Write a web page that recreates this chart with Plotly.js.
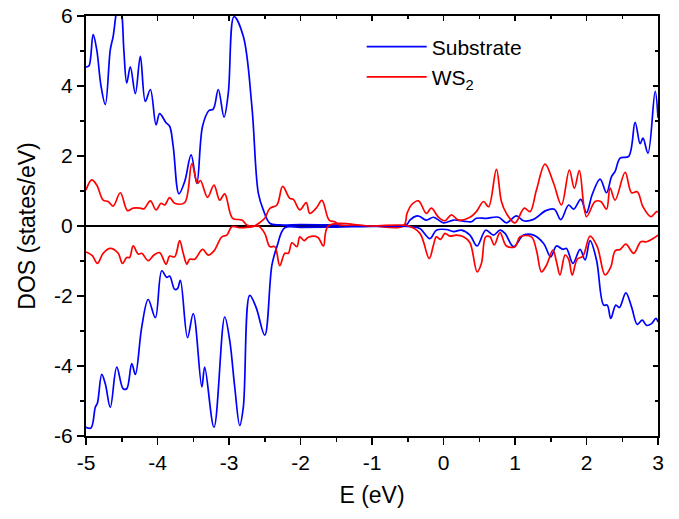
<!DOCTYPE html>
<html>
<head>
<meta charset="utf-8">
<script src="https://cdn.plot.ly/plotly-3.0.1.min.js"></script>
<style>html,body{margin:0;padding:0;background:#fff;}#chart{width:679px;height:519px;}</style>
</head>
<body>
<div id="chart"></div>
<script>
// Substrate, spin up (positive DOS)
const subUpE = [-5.0,-4.96,-4.90,-4.85,-4.79,-4.73,-4.66,-4.62,-4.58,-4.54,-4.50,-4.47,-4.43,-4.38,-4.31,-4.24,-4.17,-4.10,-4.02,-3.97,-3.88,-3.83,-3.78,-3.70,-3.62,-3.53,-3.45,-3.37,-3.28,-3.22,-3.15,-3.07,-3.01,-2.93,-2.80,-2.68,-2.59,-2.52,-2.43,-2.29,-2.0,-1.6,-1.2,-0.6,-0.51,-0.47,-0.37,-0.33,-0.24,-0.14,0.0,0.14,0.28,0.39,0.46,0.60,0.77,0.88,1.02,1.12,1.26,1.43,1.55,1.64,1.75,1.82,1.92,2.00,2.08,2.19,2.28,2.35,2.40,2.47,2.59,2.68,2.75,2.79,2.86,2.96,3.0];
const subUpV = [4.55,4.57,5.47,5.04,4.0,3.47,5.04,5.42,6.05,6.5,6.1,5.0,4.09,4.55,3.78,4.85,3.56,3.90,2.89,3.21,2.95,2.85,2.27,0.92,1.27,2.03,1.22,2.85,3.30,3.34,3.90,3.11,3.80,5.98,5.42,3.42,0.94,0.46,0.08,0.03,0.04,0.03,0.01,0.01,0.05,0.17,0.29,0.27,0.17,0.25,0.09,0.17,0.14,0.12,0.22,0.22,0.25,0.09,0.29,0.15,0.19,0.44,0.48,0.18,0.60,0.48,0.76,0.38,0.90,1.34,0.95,1.41,1.56,1.94,1.99,2.96,2.35,2.51,2.08,3.85,3.09];

// Substrate, spin down (negative DOS)
const subDnE = [-5.0,-4.93,-4.87,-4.84,-4.78,-4.73,-4.66,-4.57,-4.48,-4.43,-4.36,-4.31,-4.22,-4.13,-4.03,-3.94,-3.87,-3.83,-3.76,-3.72,-3.68,-3.58,-3.50,-3.38,-3.34,-3.21,-3.06,-2.99,-2.92,-2.85,-2.80,-2.71,-2.62,-2.50,-2.40,-2.33,-2.22,-2.0,-1.5,-1.0,-0.5,-0.42,-0.33,-0.19,-0.10,0.04,0.14,0.25,0.37,0.47,0.59,0.70,0.79,0.86,0.98,1.12,1.26,1.40,1.50,1.58,1.67,1.72,1.81,1.91,1.98,2.05,2.14,2.24,2.29,2.34,2.41,2.46,2.55,2.63,2.71,2.78,2.84,2.91,2.97,3.0];
const subDnV = [-5.75,-5.77,-5.18,-5.06,-4.24,-4.51,-5.18,-4.03,-4.65,-4.65,-3.93,-4.24,-2.88,-2.10,-2.62,-1.28,-1.47,-1.43,-1.81,-1.79,-1.55,-3.19,-2.50,-4.60,-4.03,-5.75,-2.60,-3.27,-4.60,-5.70,-5.18,-1.98,-2.33,-3.12,-1.12,-0.59,-0.05,-0.04,-0.03,-0.01,-0.01,-0.03,-0.07,-0.36,-0.12,-0.10,-0.16,-0.12,-0.26,-0.57,-0.12,-0.26,-0.12,-0.21,-0.59,-0.26,-0.26,-0.50,-0.88,-0.57,-0.67,-0.64,-1.07,-0.67,-0.97,-0.42,-0.97,-2.26,-2.26,-2.64,-2.26,-2.33,-1.91,-2.31,-2.81,-2.69,-2.84,-2.79,-2.64,-2.74];

// WS2, spin up (positive DOS)
const wsUpE = [-5.0,-4.92,-4.85,-4.76,-4.69,-4.62,-4.52,-4.42,-4.34,-4.24,-4.19,-4.10,-4.02,-3.95,-3.90,-3.83,-3.76,-3.62,-3.52,-3.44,-3.40,-3.30,-3.21,-3.13,-3.06,-2.95,-2.82,-2.75,-2.65,-2.57,-2.50,-2.43,-2.33,-2.25,-2.15,-2.10,-2.01,-1.92,-1.87,-1.78,-1.70,-1.60,-1.52,-1.45,-1.0,-0.56,-0.51,-0.45,-0.35,-0.24,-0.17,-0.07,0.02,0.11,0.21,0.37,0.46,0.56,0.63,0.74,0.81,0.88,1.0,1.13,1.21,1.30,1.42,1.54,1.65,1.76,1.83,1.90,2.00,2.12,2.20,2.28,2.33,2.40,2.54,2.63,2.71,2.79,2.90,2.98,3.0];
const wsUpV = [1.03,1.32,1.17,0.74,0.70,0.57,0.95,0.44,0.51,0.51,0.49,0.72,0.46,0.65,0.60,0.81,0.65,0.67,1.78,1.22,1.30,0.82,1.17,0.74,0.92,0.22,0.17,0.03,0.0,0.10,0.22,0.50,0.60,1.13,0.79,0.76,0.46,0.67,0.36,0.51,0.73,0.17,0.12,0.03,0.0,0.0,0.36,0.60,0.72,0.36,0.51,0.25,0.15,0.32,0.17,0.25,0.41,0.70,0.55,1.62,0.70,0.36,0.09,0.51,0.41,1.03,1.77,1.22,0.60,1.60,1.08,1.58,0.27,0.70,0.70,0.48,1.08,0.74,1.53,0.95,0.98,0.55,0.27,0.41,0.40];

// WS2, spin down (negative DOS)
const wsDnE = [-5.0,-4.92,-4.90,-4.84,-4.76,-4.66,-4.55,-4.49,-4.43,-4.39,-4.34,-4.27,-4.22,-4.13,-4.05,-3.97,-3.88,-3.83,-3.76,-3.69,-3.64,-3.59,-3.55,-3.48,-3.37,-3.29,-3.21,-3.10,-3.03,-2.96,-2.85,-2.70,-2.59,-2.50,-2.43,-2.36,-2.29,-2.22,-2.17,-2.12,-2.05,-2.01,-1.95,-1.89,-1.76,-1.68,-1.61,-1.0,-0.49,-0.33,-0.20,-0.14,-0.10,-0.04,0.02,0.09,0.18,0.28,0.37,0.47,0.53,0.59,0.65,0.71,0.79,0.88,1.0,1.07,1.23,1.30,1.37,1.44,1.53,1.58,1.63,1.70,1.75,1.80,1.87,1.95,2.05,2.15,2.26,2.34,2.40,2.47,2.55,2.66,2.76,2.84,2.93,3.0];
const wsDnV = [-0.74,-0.83,-0.88,-1.07,-0.78,-0.64,-0.78,-1.07,-0.90,-0.90,-0.57,-0.80,-0.78,-0.99,-0.83,-0.76,-1.09,-0.86,-0.88,-0.42,-0.78,-1.09,-0.95,-0.95,-0.67,-0.83,-0.71,-0.31,-0.26,-0.02,-0.05,-0.03,0.0,-0.21,-0.59,-0.59,-1.13,-0.78,-0.78,-0.48,-0.59,-0.31,-0.42,-0.32,-0.32,-0.57,0.0,0.0,0.0,-0.21,-0.93,-0.54,-0.31,-0.38,-0.21,-0.29,-0.26,-0.31,-0.48,-1.31,-1.07,-0.31,-0.31,-0.54,-0.19,-0.57,-0.59,-0.31,-0.31,-0.69,-1.31,-1.12,-0.69,-1.02,-1.40,-0.83,-0.95,-1.40,-0.95,-0.86,-0.29,-0.59,-1.40,-1.17,-0.71,-0.67,-0.52,-0.78,-0.45,-0.45,-0.36,-0.26];

const xTickVals = [-5,-4,-3,-2,-1,0,1,2,3];
const xTickText = ['-5','-4','-3','-2','-1','0','1','2','3'];
const yTickVals = [-6,-4,-2,0,2,4,6];
const yTickText = ['-6','-4','-2','0','2','4','6'];

const FONT = 'Liberation Sans, Arial, sans-serif';
const BLUE = '#0000ff', RED = '#ff0000';
const line = (c) => ({color: c, width: 1.7, shape: 'spline', smoothing: 1.0});

const traces = [
  {x: subUpE, y: subUpV, type: 'scatter', mode: 'lines', name: 'Substrate', line: line(BLUE), legendgroup: 's'},
  {x: wsUpE, y: wsUpV, type: 'scatter', mode: 'lines', name: 'WS<sub>2</sub>', line: line(RED), legendgroup: 'w'},
  {x: subDnE, y: subDnV, type: 'scatter', mode: 'lines', name: 'Substrate', line: line(BLUE), showlegend: false, legendgroup: 's'},
  {x: wsDnE, y: wsDnV, type: 'scatter', mode: 'lines', name: 'WS<sub>2</sub>', line: line(RED), showlegend: false, legendgroup: 'w'},
  {x: [xTickVals[0], xTickVals[xTickVals.length-1]], y: [null, null], xaxis: 'x2', yaxis: 'y2', mode: 'lines', showlegend: false, hoverinfo: 'skip'}
];

const axCommon = {
  showgrid: false, showline: true, linecolor: '#000', linewidth: 2,
  tickcolor: '#000', tickwidth: 1.5, ticklen: 7,
  tickfont: {family: FONT, size: 21, color: '#000'}
};

const layout = {
  width: 679, height: 519,
  margin: {l: 86, r: 21, t: 16, b: 83},
  paper_bgcolor: '#fff', plot_bgcolor: '#fff',
  font: {family: FONT, color: '#000'},
  showlegend: true,
  legend: {
    x: 0.482, y: 0.975, xanchor: 'left', yanchor: 'top',
    bgcolor: 'rgba(0,0,0,0)', borderwidth: 0,
    font: {family: FONT, size: 21, color: '#000'},
    itemwidth: 60, tracegroupgap: 0
  },
  xaxis: Object.assign({}, axCommon, {
    range: [-5, 3], tickmode: 'array', tickvals: xTickVals, ticktext: xTickText,
    ticks: 'outside', zeroline: false,
    minor: {dtick: 0.5, ticks: 'outside', ticklen: 4, tickwidth: 1.5, tickcolor: '#000'},
    title: {text: 'E (eV)', font: {family: FONT, size: 23, color: '#000'}, standoff: 14}
  }),
  yaxis: Object.assign({}, axCommon, {
    range: [-6, 6], tickmode: 'array', tickvals: yTickVals, ticktext: yTickText,
    ticks: 'outside', zeroline: true, zerolinecolor: '#000', zerolinewidth: 2,
    minor: {dtick: 1, ticks: 'outside', ticklen: 4, tickwidth: 1.5, tickcolor: '#000'},
    title: {text: 'DOS (states/eV)', font: {family: FONT, size: 23, color: '#000'}, standoff: 12}
  }),
  xaxis2: Object.assign({}, axCommon, {
    range: [-5, 3], overlaying: 'x', side: 'top', tickmode: 'array', tickvals: xTickVals,
    ticks: 'inside', showticklabels: false, zeroline: false, ticklen: 5,
    minor: {dtick: 0.5, ticks: 'inside', ticklen: 3, tickwidth: 1.5, tickcolor: '#000'}
  }),
  yaxis2: Object.assign({}, axCommon, {
    range: [-6, 6], overlaying: 'y', side: 'right', tickmode: 'array', tickvals: yTickVals,
    ticks: 'inside', showticklabels: false, zeroline: false, ticklen: 5,
    minor: {dtick: 1, ticks: 'inside', ticklen: 3, tickwidth: 1.5, tickcolor: '#000'}
  })
};

Plotly.newPlot('chart', traces, layout, {displayModeBar: false, staticPlot: true});
</script>
</body>
</html>
